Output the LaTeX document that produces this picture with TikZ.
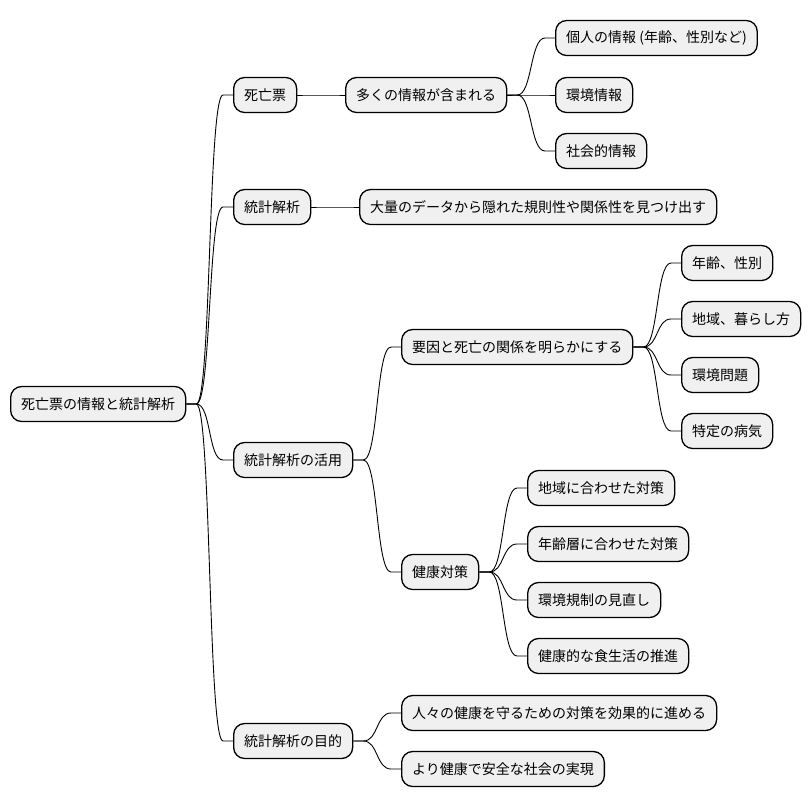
\documentclass[tikz,border=0pt]{standalone}
\usepackage{fontspec}
\setmainfont{Noto Sans CJK JP}
\usepackage{tikz}
\usetikzlibrary{calc}
\tikzset{
	topic/.style={draw=black,line width=1.3pt,fill=gray!12,rounded corners=11pt,
			minimum height=35pt,inner xsep=10.5pt,anchor=west,
			font=\fontsize{14}{17}\selectfont},
	branch/.style={line width=0.9pt,
			to path={-- ++(10,0) .. controls +(15,0) and +(-15,0) .. ($(\tikztotarget)+(-10,0)$) -- (\tikztotarget)}}
}

\begin{document}
\begin{tikzpicture}[x=1pt,y=-1pt]
		\useasboundingbox (0,0) rectangle (810,809);
		\node [topic] (root) at (10,404) {死亡票の情報と統計解析};
		\node [topic] (shibo) at (233,95) {死亡票};
		\node [topic] (fukumu) at (345,95) {多くの情報が含まれる};
		\node [topic] (kojin) at (555,38) {個人の情報 (年齢、性別など)};
		\node [topic] (kankyo) at (555,95) {環境情報};
		\node [topic] (shakai) at (555,151) {社会的情報};
		\node [topic] (kaiseki) at (233,207) {統計解析};
		\node [topic] (kisoku) at (359,207) {大量のデータから隠れた規則性や関係性を見つけ出す};
		\node [topic] (katsuyo) at (233,460) {統計解析の活用};
		\node [topic] (yoin) at (401,347) {要因と死亡の関係を明らかにする};
		\node [topic] (nenrei) at (681,263) {年齢、性別};
		\node [topic] (chiiki) at (681,319) {地域、暮らし方};
		\node [topic] (mondai) at (681,375) {環境問題};
		\node [topic] (byoki) at (681,431) {特定の病気};
		\node [topic] (taisaku) at (401,572) {健康対策};
		\node [topic] (chiikitai) at (527,488) {地域に合わせた対策};
		\node [topic] (nenreitai) at (527,544) {年齢層に合わせた対策};
		\node [topic] (kisei) at (527,600) {環境規制の見直し};
		\node [topic] (shoku) at (527,656) {健康的な食生活の推進};
		\node [topic] (mokuteki) at (233,741) {統計解析の目的};
		\node [topic] (mamoru) at (401,713) {人々の健康を守るための対策を効果的に進める};
		\node [topic] (jitsugen) at (401,769) {より健康で安全な社会の実現};
		% root branches
		\draw [branch] (root.east) to (shibo.west);
		\draw [branch] (root.east) to (kaiseki.west);
		\draw [branch] (root.east) to (katsuyo.west);
		\draw [branch] (root.east) to (mokuteki.west);
		\draw [branch] (shibo.east) to (fukumu.west);
		\draw [branch] (fukumu.east) to (kojin.west);
		\draw [branch] (fukumu.east) to (kankyo.west);
		\draw [branch] (fukumu.east) to (shakai.west);
		\draw [branch] (kaiseki.east) to (kisoku.west);
		\draw [branch] (katsuyo.east) to (yoin.west);
		\draw [branch] (katsuyo.east) to (taisaku.west);
		\draw [branch] (yoin.east) to (nenrei.west);
		\draw [branch] (yoin.east) to (chiiki.west);
		\draw [branch] (yoin.east) to (mondai.west);
		\draw [branch] (yoin.east) to (byoki.west);
		\draw [branch] (taisaku.east) to (chiikitai.west);
		\draw [branch] (taisaku.east) to (nenreitai.west);
		\draw [branch] (taisaku.east) to (kisei.west);
		\draw [branch] (taisaku.east) to (shoku.west);
		\draw [branch] (mokuteki.east) to (mamoru.west);
		\draw [branch] (mokuteki.east) to (jitsugen.west);
	\end{tikzpicture}
\end{document}
